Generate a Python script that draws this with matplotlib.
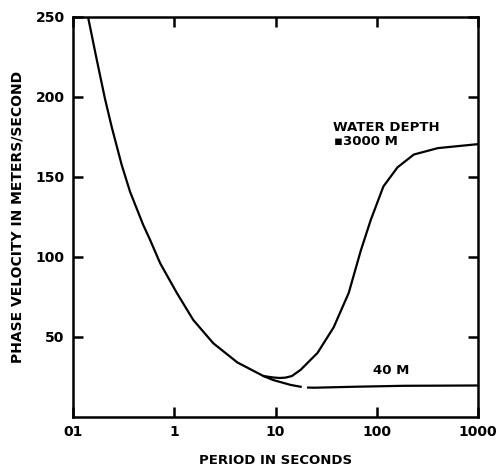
import numpy as np
import matplotlib
matplotlib.use('Agg')
import matplotlib.pyplot as plt

# Kurva kedalaman air 3000 m (periode dalam detik, kecepatan fase m/s)
periode_3000 = [0.141, 0.171, 0.207, 0.242, 0.303, 0.367, 0.494, 0.578, 0.727,
                1.06, 1.54, 2.43, 4.2, 7.6, 9.5, 11, 12.5, 14.5, 17.7, 26, 37.5, 52.8,
                69.5, 87, 116, 160, 232, 400, 1000]
kecepatan_3000 = [250, 224, 199, 181, 157.5, 140.6, 120, 110.6, 96,
                  77.5, 60.6, 46, 34, 25.5, 24.6, 24.3, 24.5, 25.5, 29.4, 40, 56, 77.5,
                  104, 123, 144, 156, 164, 168, 170.5]

# Cabang kedalaman 40 m (nan = celah pada garis di gambar asli)
periode_40 = [7.6, 9.5, 14, 17.7, np.nan, 21, 24, 59, 184, 1000]
kecepatan_40 = [25.5, 23, 20, 18.8, np.nan, 18.3, 18.2, 18.8, 19.4, 19.6]

xticks = [0.1, 1, 10, 100, 1000]
xtick_labels = ['01', '1', '10', '100', '1000']
yticks = [50, 100, 150, 200, 250]
ytick_labels = ['50', '100', '150', '200', '250']

plt.rcParams['font.family'] = 'DejaVu Sans'
plt.rcParams['font.weight'] = 'bold'

fig = plt.figure(figsize=(4.96, 4.71), dpi=100)
ax = fig.add_axes([0.147, 0.115, 0.817, 0.849])

ax.plot(periode_3000, kecepatan_3000, color='black', lw=1.6, solid_joinstyle='round')
ax.plot(periode_40, kecepatan_40, color='black', lw=1.6, solid_joinstyle='round')

ax.set_xscale('log')
ax.set_xlim(0.1, 1000)
ax.set_ylim(0, 250)
ax.set_xticks(xticks)
ax.set_xticklabels(xtick_labels)
ax.minorticks_off()
ax.set_yticks(yticks)
ax.set_yticklabels(ytick_labels)
ax.tick_params(direction='in', length=7, width=1.8, labelsize=10,
               top=True, right=True, pad=6)
for lbl in ax.get_xticklabels() + ax.get_yticklabels():
    lbl.set_fontweight('bold')
for s in ax.spines.values():
    s.set_linewidth(1.8)

ax.set_xlabel('PERIOD IN SECONDS', fontsize=9.5, fontweight='bold', labelpad=11)
ax.set_ylabel('PHASE VELOCITY IN METERS/SECOND', fontsize=10, fontweight='bold', labelpad=8)

ax.text(37, 179, 'WATER DEPTH', fontsize=9.5, fontweight='bold', ha='left', va='baseline')
ax.text(38, 168, '\u25aa3000 M', fontsize=9.5, fontweight='bold', ha='left', va='bottom')
ax.text(140, 25, '40 M', fontsize=9.5, fontweight='bold', ha='center', va='bottom')

fig.savefig('out.png', dpi=100)
